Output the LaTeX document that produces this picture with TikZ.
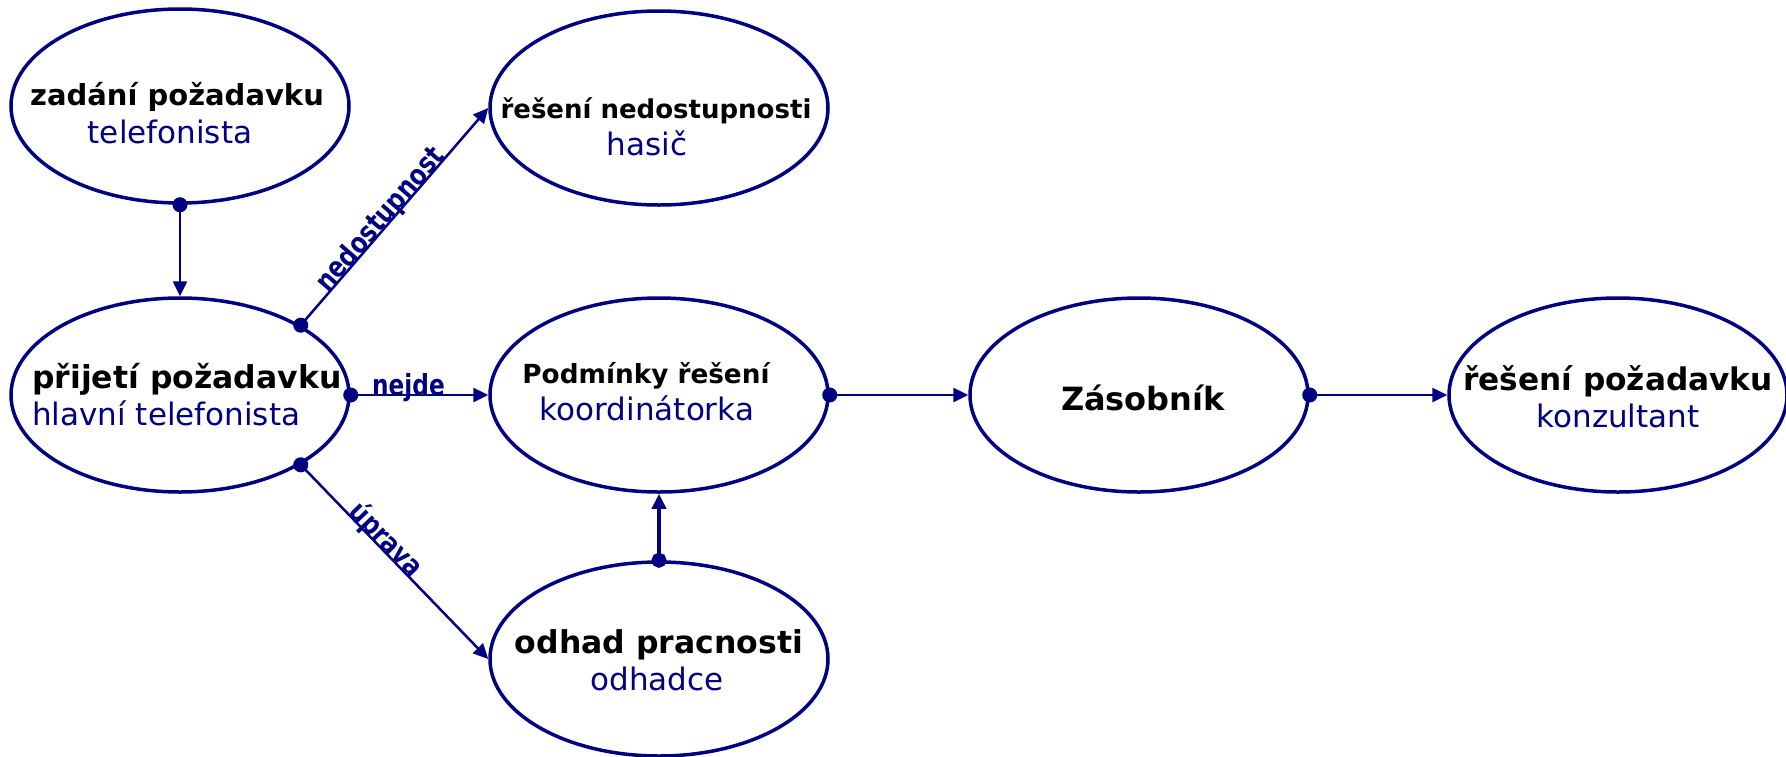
\documentclass[tikz,border=0pt]{standalone}
\usepackage{fontspec}
\setmainfont{DejaVu Sans}
\newfontfamily\tagfont[FakeStretch=0.8]{DejaVu Sans}
\usepackage{tikz}
\usetikzlibrary{
  arrows.meta,
  shapes.geometric
}
\definecolor{navyline}{RGB}{0,0,128}

\tikzset{
  stage/.style={ellipse, draw=navyline, line width=3.5pt,
    minimum width=338pt, minimum height=194pt, inner sep=0pt},
  task/.style={anchor=base, inner sep=0pt, text=black,
    font=\bfseries\fontsize{#1}{36}\selectfont},
  task/.default=31,
  role/.style={anchor=base, inner sep=0pt, text=navyline,
    font=\fontsize{31}{36}\selectfont},
  flow/.style={draw=navyline, line width=2.5pt, shorten <=-7.5pt,
    {Circle[length=15pt]}-{Triangle[length=15pt,width=14pt]}},
  tag/.style={sloped, anchor=base, inner sep=0pt, text=navyline,
    font=\tagfont\bfseries\fontsize{29}{30}\selectfont}
}

\begin{document}
\begin{tikzpicture}[x=1pt, y=-1pt]
  \useasboundingbox (0,0) rectangle (1786,756);
  % ellipses
  \node[stage] (zadani) at (180,106) {};
  \node[stage] (prijeti) at (180,395) {};
  \node[stage] (nedost) at (659,108) {};
  \node[stage] (podminky) at (659,395) {};
  \node[stage] (odhad) at (659,659) {};
  \node[stage] (zasob) at (1139,395) {};
  \node[stage] (reseni) at (1618,395) {};
  % texts
  \node[task=29] (zadaniT) at (177,105) {zadání požadavku};
  \node[role] (zadaniR) at (170,143) {telefonista};
  \node[task=31.5, anchor=base west] (prijetiT) at (32,388) {přijetí požadavku};
  \node[role, anchor=base west] (prijetiR) at (32,425) {hlavní telefonista};
  \node[task=26] (nedostT) at (656,118) {řešení nedostupnosti};
  \node[role] (nedostR) at (647,155) {hasič};
  \node[task=26.3] (podminkyT) at (646,383) {Podmínky řešení};
  \node[role] (podminkyR) at (647,420) {koordinátorka};
  \node[task=31.5] (odhadT) at (659,653) {odhad pracnosti};
  \node[role] (odhadR) at (657,690) {odhadce};
  \node[task=32] (zasobT) at (1143,410) {Zásobník};
  \node[task=31.2] (reseniT) at (1618,390) {řešení požadavku};
  \node[role] (reseniR) at (1618,427) {konzultant};
  % connectors
  \draw[flow] (zadani.south) -- (prijeti.north);
  \draw[flow] (prijeti.north east) -- node[tag, pos=0.46] (tagNed) {nedostupnost} (nedost.west);
  \draw[flow] (prijeti.east) -- node[tag, pos=0.42] (tagNejde) {nejde} (podminky.west);
  \draw[flow] (prijeti.south east) -- node[tag, pos=0.42] (tagUprava) {úprava} (odhad.west);
  \draw[flow] (podminky.east) -- (zasob.west);
  \draw[flow] (zasob.east) -- (reseni.west);
  \draw[flow, line width=4.5pt] (odhad.north) -- (podminky.south);
\end{tikzpicture}
\end{document}
